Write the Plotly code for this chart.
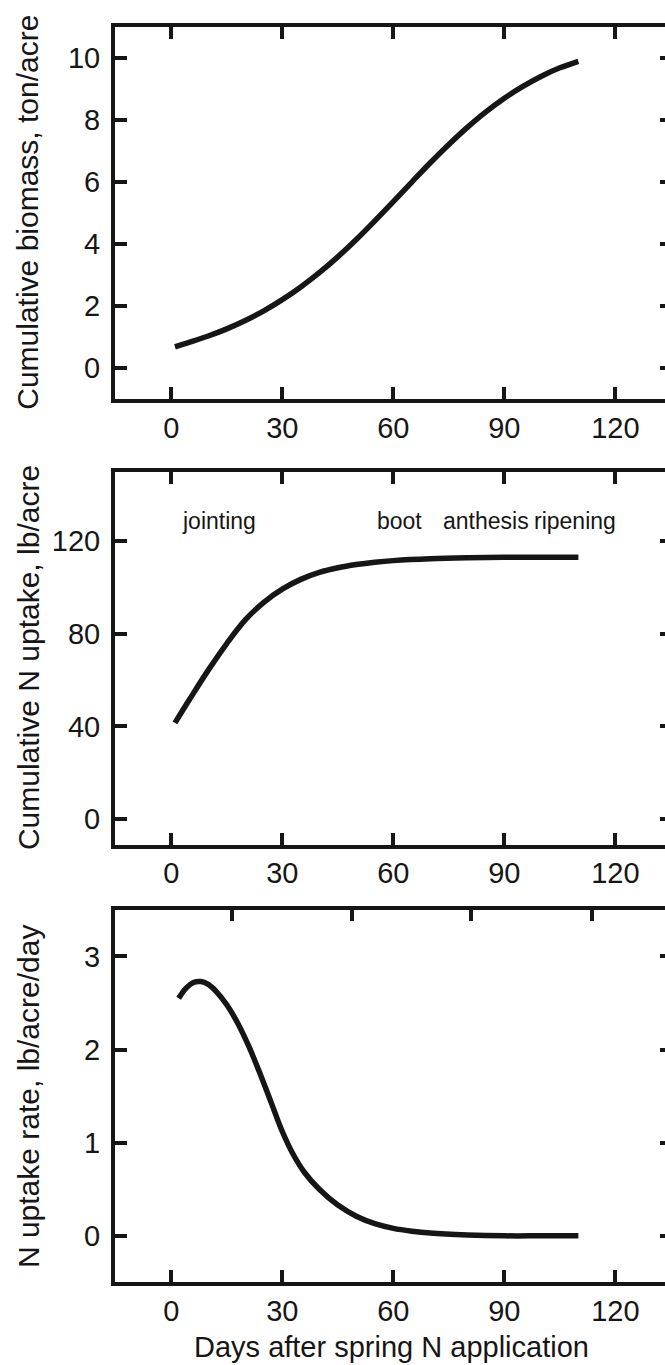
import plotly.graph_objects as go

# ---------------- data ----------------
days_biomass = [1, 5, 10, 15, 20, 25, 30, 35, 40, 45, 50, 55, 60, 65, 70, 75, 80, 85, 90, 95, 100, 105, 110]
biomass = [0.68, 0.83, 1.03, 1.26, 1.53, 1.84, 2.20, 2.61, 3.07, 3.58, 4.14, 4.74, 5.36, 5.99, 6.61, 7.20,
           7.75, 8.25, 8.69, 9.07, 9.40, 9.67, 9.88]

days_uptake = [1, 5, 10, 15, 20, 25, 30, 35, 40, 45, 50, 55, 60, 70, 80, 90, 100, 110]
uptake = [41.5, 51.8, 64.3, 75.8, 86.0, 93.6, 99.3, 103.5, 106.5, 108.5, 109.9, 110.9, 111.6, 112.4, 112.8,
          113.0, 113.0, 113.0]

days_rate = [2, 4, 6, 8, 10, 12, 15, 18, 21, 24, 27, 30, 33, 36, 40, 45, 50, 55, 60, 65, 70, 80, 90, 100, 110]
rate = [2.55, 2.66, 2.72, 2.73, 2.70, 2.63, 2.48, 2.28, 2.03, 1.74, 1.43, 1.12, 0.87, 0.68, 0.50, 0.33, 0.21,
        0.13, 0.08, 0.05, 0.03, 0.01, 0.0, 0.0, 0.0]

x_ticks = [0, 30, 60, 90, 120]
x_tick_labels = ["0", "30", "60", "90", "120"]
top3_ticks = [16.4, 48.8, 81.1, 113.6]
y1_ticks = [0, 2, 4, 6, 8, 10]
y2_ticks = [0, 40, 80, 120]
y3_ticks = [0, 1, 2, 3]

stage_labels = ["jointing", "boot", "anthesis", "ripening"]
stage_days = [12.8, 61.8, 85.1, 109.0]
stage_level = [128.5, 128.5, 128.5, 128.5]

y_titles = ["Cumulative biomass, ton/acre", "Cumulative N uptake, lb/acre", "N uptake rate, lb/acre/day"]
x_title = "Days after spring N application"

# ---------------- styling ----------------
INK = "#161616"
FONT = "Liberation Sans, Arial, Helvetica, sans-serif"
W, H = 665, 1365
X_RANGE = [-15.2, 133.4]
X_DOMAIN = [115 / W, 1.0]
Y_RANGES = [[-1, 11], [-11, 150], [-0.5, 3.5]]
TICKLEN, TICKW, LINEW = 12, 4, 4


def ydom(top_px, bottom_px):
    return [1 - bottom_px / H, 1 - top_px / H]


DOMS = [ydom(26.5, 399), ydom(471.7, 844.5), ydom(909.8, 1282.4)]

fig = go.Figure()

line_style = dict(color=INK, width=5.5, shape="spline", smoothing=1.0)
fig.add_trace(go.Scatter(x=days_biomass, y=biomass, mode="lines", line=line_style,
                         xaxis="x", yaxis="y", showlegend=False, hoverinfo="skip"))
fig.add_trace(go.Scatter(x=days_uptake, y=uptake, mode="lines", line=line_style,
                         xaxis="x2", yaxis="y2", showlegend=False, hoverinfo="skip"))
fig.add_trace(go.Scatter(x=days_rate, y=rate, mode="lines", line=line_style,
                         xaxis="x3", yaxis="y3", showlegend=False, hoverinfo="skip"))
# empty traces that create the thin tick-only strips (right-hand ticks, top ticks of panel 3)
for xa, ya in [("x5", "y4"), ("x5", "y5"), ("x5", "y6"), ("x4", "y7")]:
    fig.add_trace(go.Scatter(x=[], y=[], xaxis=xa, yaxis=ya, showlegend=False, hoverinfo="skip"))


def xaxis(anchor, mirror):
    return dict(domain=X_DOMAIN, range=X_RANGE, anchor=anchor, tickmode="array",
                tickvals=x_ticks, ticktext=x_tick_labels, ticks="inside", ticklen=TICKLEN,
                tickwidth=TICKW, tickcolor=INK, showline=True, linewidth=LINEW, linecolor=INK,
                mirror=mirror, showgrid=False, zeroline=False,
                tickfont=dict(family=FONT, size=29, color=INK))


def yaxis(anchor, dom, rng, vals):
    return dict(domain=dom, range=rng, anchor=anchor, tickmode="array", tickvals=vals,
                ticks="inside", ticklen=TICKLEN, tickwidth=TICKW, tickcolor=INK, showline=True,
                linewidth=LINEW, linecolor=INK, mirror=False, showgrid=False, zeroline=False,
                tickfont=dict(family=FONT, size=29, color=INK), ticklabelstandoff=5)


def yright(dom, rng, vals):
    return dict(domain=dom, side="right", anchor="x5", range=rng, tickmode="array",
                tickvals=vals, ticks="inside", ticklen=5, tickwidth=TICKW, tickcolor=INK,
                showline=False, showgrid=False, zeroline=False, showticklabels=False)


hidden = dict(showline=False, showgrid=False, zeroline=False, showticklabels=False, ticks="",
              range=[0, 1], fixedrange=True)

fig.update_layout(
    width=W, height=H, autosize=False,
    margin=dict(l=0, r=0, t=0, b=0, pad=0),
    paper_bgcolor="white", plot_bgcolor="rgba(0,0,0,0)",
    font=dict(family=FONT, color=INK),
    xaxis=xaxis("y", "ticks"),
    xaxis2=xaxis("y2", "ticks"),
    xaxis3=xaxis("y3", True),
    xaxis4=dict(domain=X_DOMAIN, side="top", anchor="y7", range=X_RANGE, tickmode="array",
                tickvals=top3_ticks, ticks="inside", ticklen=TICKLEN - 1, tickwidth=TICKW,
                tickcolor=INK, showline=False, showgrid=False, zeroline=False,
                showticklabels=False),
    xaxis5=dict(domain=[1 - 14 / W, 1.0], anchor="y4", **hidden),
    yaxis=yaxis("x", DOMS[0], Y_RANGES[0], y1_ticks),
    yaxis2=yaxis("x2", DOMS[1], Y_RANGES[1], y2_ticks),
    yaxis3=yaxis("x3", DOMS[2], Y_RANGES[2], y3_ticks),
    yaxis4=yright(DOMS[0], Y_RANGES[0], y1_ticks),
    yaxis5=yright(DOMS[1], Y_RANGES[1], y2_ticks),
    yaxis6=yright(DOMS[2], Y_RANGES[2], y3_ticks),
    yaxis7=dict(domain=[DOMS[2][1] - 16 / H, DOMS[2][1]], anchor="x4", **hidden),
)

# y-axis titles (rotated), placed at a common left position
for title, dom in zip(y_titles, DOMS):
    fig.add_annotation(x=28 / W, y=(dom[0] + dom[1]) / 2, xref="paper", yref="paper",
                       text=title, textangle=-90, showarrow=False,
                       xanchor="center", yanchor="middle",
                       font=dict(family=FONT, size=30, color=INK))

# x-axis title of the bottom panel
fig.add_annotation(x=392 / W, y=1 - 1347 / H, xref="paper", yref="paper", text=x_title,
                   showarrow=False, xanchor="center", yanchor="middle",
                   font=dict(family=FONT, size=29, color=INK))

# growth-stage labels
for lab, dx, dy in zip(stage_labels, stage_days, stage_level):
    fig.add_annotation(x=dx, y=dy, xref="x2", yref="y2", text=lab, showarrow=False,
                       xanchor="center", yanchor="middle",
                       font=dict(family=FONT, size=23, color=INK))

fig.write_html("out.html", config={"displayModeBar": False},
               post_script="document.body.style.margin='0';document.body.style.overflow='hidden';")
